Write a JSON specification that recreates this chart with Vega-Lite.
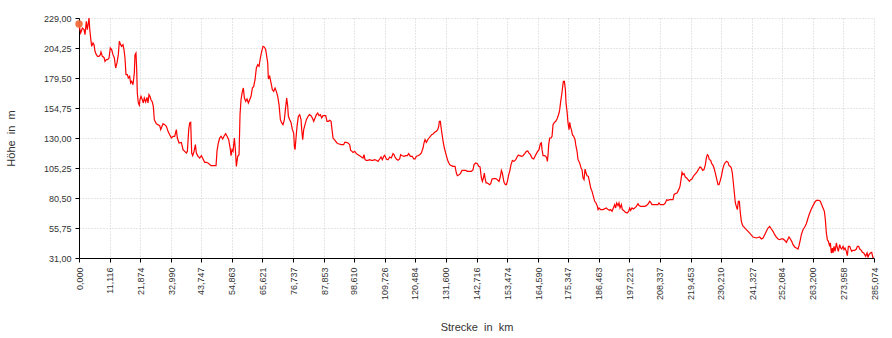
{
 "$schema": "https://vega.github.io/schema/vega-lite/v6.json",
 "width": 795, "height": 240,
 "autosize": "none",
 "padding": {"left": 79, "top": 18, "right": 18, "bottom": 80},
 "background": "white",
 "config": {"view": {"stroke": null}, "font": "Liberation Sans", "axis": {"labelOverlap": false, "labelSeparation": 0}},
 "datasets": {
  "start": [{"km": 0, "m": 224}],
  "profile": [
   {"km":0,"m":223.5},{"km":0.6,"m":216.6},{"km":1.2,"m":220.75},{"km":1.8,"m":219.4},{"km":2.15,"m":215.25},{"km":2.63,"m":226.25},{"km":2.99,"m":219.4},{"km":3.35,"m":224.9},{"km":3.59,"m":229},{"km":3.82,"m":220.75},{"km":4.18,"m":212.5},{"km":4.54,"m":205.6},{"km":5.02,"m":208.4},{"km":5.38,"m":207},{"km":5.74,"m":201.5},{"km":6.21,"m":198.75},{"km":6.69,"m":197.4},{"km":7.17,"m":197.4},{"km":7.65,"m":198.75},{"km":7.89,"m":201},{"km":8.37,"m":197.4},{"km":8.96,"m":196.5},{"km":9.32,"m":193.25},{"km":9.8,"m":194.6},{"km":10.28,"m":194.6},{"km":10.76,"m":196},{"km":11.23,"m":204.25},{"km":11.71,"m":202.9},{"km":12.19,"m":198.75},{"km":12.67,"m":196},{"km":13.15,"m":187.75},{"km":13.62,"m":191.9},{"km":14.1,"m":198.75},{"km":14.46,"m":209.75},{"km":14.94,"m":207},{"km":15.3,"m":205.6},{"km":15.77,"m":207},{"km":16.13,"m":202.9},{"km":16.49,"m":196},{"km":16.85,"m":182.25},{"km":17.33,"m":182.25},{"km":17.69,"m":179.5},{"km":18.16,"m":180.9},{"km":18.52,"m":175.4},{"km":18.88,"m":176.75},{"km":19.36,"m":174},{"km":19.84,"m":183.6},{"km":20.08,"m":198.75},{"km":20.43,"m":200.1},{"km":20.67,"m":187.75},{"km":20.91,"m":167.1},{"km":21.27,"m":158.9},{"km":21.63,"m":157},{"km":21.87,"m":161.6},{"km":22.23,"m":164.4},{"km":22.71,"m":161.6},{"km":23.06,"m":158.9},{"km":23.42,"m":163},{"km":23.9,"m":159.7},{"km":24.38,"m":163.5},{"km":24.74,"m":158.9},{"km":25.1,"m":165.75},{"km":25.45,"m":164.4},{"km":25.81,"m":161.6},{"km":26.29,"m":159.7},{"km":26.65,"m":156.1},{"km":27.01,"m":145.1},
   {"km":27.74,"m":141.8},{"km":28.94,"m":140.2},{"km":29.3,"m":136.9},{"km":30.13,"m":141.8},{"km":30.73,"m":141},{"km":31.33,"m":139.6},{"km":31.92,"m":135.5},{"km":32.52,"m":132.75},{"km":33.12,"m":130},{"km":33.72,"m":131.4},{"km":34.32,"m":131.4},{"km":34.91,"m":136.9},{"km":35.27,"m":130},{"km":35.87,"m":125.9},{"km":36.71,"m":126.4},{"km":37.3,"m":120.4},{"km":37.9,"m":119},{"km":38.5,"m":117.6},{"km":38.86,"m":119},{"km":39.34,"m":136.9},{"km":39.7,"m":142.4},{"km":40.05,"m":142.9},{"km":40.41,"m":117.6},{"km":40.77,"m":115.4},{"km":41.25,"m":119},{"km":41.73,"m":124.5},{"km":42.09,"m":117.6},{"km":42.68,"m":114.9},{"km":43.28,"m":113.5},{"km":43.88,"m":115.4},{"km":44.48,"m":112.7},{"km":45.07,"m":109.9},{"km":45.67,"m":109.9},{"km":46.27,"m":109.4},
   {"km":47.35,"m":107.2},{"km":49.14,"m":107.2},{"km":49.5,"m":119.7},{"km":49.97,"m":125.9},{"km":50.45,"m":130},{"km":50.93,"m":131.4},{"km":51.53,"m":129.2},{"km":52.13,"m":132},{"km":52.6,"m":133.6},{"km":53.08,"m":131.4},{"km":53.68,"m":128.6},{"km":54.28,"m":120.4},{"km":54.52,"m":115.4},{"km":54.88,"m":120.4},{"km":55.23,"m":119},{"km":55.71,"m":130},{"km":56.07,"m":120.4},{"km":56.43,"m":106.6},{"km":56.67,"m":110.75},{"km":56.91,"m":114.9},{"km":57.39,"m":116.25},{"km":57.74,"m":149.25},{"km":58.1,"m":161.6},{"km":58.58,"m":168.5},{"km":58.94,"m":171.25},{"km":59.3,"m":163},{"km":59.78,"m":160.3},{"km":60.25,"m":162.2},{"km":60.73,"m":158.9},{"km":61.21,"m":161.6},{"km":61.69,"m":164.4},{"km":62.17,"m":171.25},{"km":62.65,"m":172.6},{"km":63.12,"m":178.1},{"km":63.6,"m":187.75},{"km":64.08,"m":190.5},{"km":64.56,"m":189.1},{"km":65.04,"m":196},{"km":65.51,"m":201.5},{"km":65.99,"m":205.6},{"km":66.47,"m":205},{"km":66.95,"m":202.9},{"km":67.31,"m":197.4},{"km":67.67,"m":191.9},{"km":67.9,"m":178.7},{"km":68.38,"m":180.9},{"km":68.86,"m":175.4},{"km":69.34,"m":169.9},{"km":69.82,"m":168.5},{"km":70.3,"m":171.25},{"km":70.77,"m":168.5},{"km":71.25,"m":164.4},{"km":71.73,"m":157.5},{"km":72.21,"m":145.1},{"km":72.69,"m":142.4},{"km":73.16,"m":141},{"km":73.64,"m":145.1},{"km":74.0,"m":153.4},{"km":74.48,"m":163},{"km":74.84,"m":156.1},{"km":75.08,"m":147.9},{"km":75.55,"m":145.1},{"km":76.03,"m":142.9},{"km":76.51,"m":136.9},{"km":76.99,"m":134.1},{"km":77.23,"m":123.1},{"km":77.47,"m":120.4},{"km":77.82,"m":130},{"km":78.18,"m":139.6},{"km":78.66,"m":147.9},{"km":79.14,"m":149.25},{"km":79.62,"m":145.1},{"km":79.86,"m":136.9},{"km":80.22,"m":128.6},{"km":80.57,"m":136.9},{"km":81.05,"m":141},{"km":81.53,"m":145.1},{"km":82.01,"m":147.35},{"km":82.61,"m":149.25},{"km":83.2,"m":148.4},{"km":83.68,"m":146.5},{"km":84.16,"m":143.75},{"km":84.64,"m":146.5},{"km":85.12,"m":149.25},{"km":85.6,"m":150.6},{"km":86.07,"m":148.4},{"km":86.55,"m":149.25},{"km":87.03,"m":146.5},{"km":87.51,"m":148.4},{"km":87.99,"m":148.4},{"km":88.46,"m":148.4},{"km":88.94,"m":143.75},{"km":89.42,"m":143.75},{"km":89.9,"m":144.6},{"km":90.38,"m":143.75},{"km":90.73,"m":136.9},{"km":91.09,"m":130},{"km":91.57,"m":128.6},{"km":92.05,"m":127.3},{"km":92.53,"m":125.9},{"km":93.0,"m":125.3},
   {"km":94.08,"m":124.5},{"km":94.91,"m":124.5},{"km":95.27,"m":126.4},{"km":95.87,"m":126.4},{"km":96.47,"m":125.9},{"km":97.07,"m":124.5},{"km":97.42,"m":119.8},{"km":97.9,"m":119},{"km":98.26,"m":118.1},{"km":98.86,"m":119},{"km":99.46,"m":117.1},{"km":100.05,"m":116.25},{"km":100.65,"m":115.4},{"km":101.25,"m":114.3},{"km":101.85,"m":113.5},{"km":102.21,"m":116.25},{"km":102.56,"m":112.1},{"km":103.04,"m":111.6},{"km":103.64,"m":111.6},{"km":104.24,"m":112.1},{"km":104.84,"m":111.6},{"km":105.43,"m":111.6},{"km":106.03,"m":112.1},{"km":106.63,"m":111.6},{"km":107.23,"m":110.75},{"km":107.82,"m":112.7},{"km":108.3,"m":114.3},{"km":108.78,"m":112.1},{"km":109.26,"m":114.9},{"km":109.62,"m":115.7},{"km":110.21,"m":112.7},{"km":110.81,"m":112.1},{"km":111.41,"m":114.3},{"km":112.01,"m":113.5},{"km":112.6,"m":117.1},{"km":112.96,"m":116.25},{"km":113.32,"m":114.3},{"km":113.8,"m":112.7},{"km":114.4,"m":111.6},{"km":114.98,"m":112.7},{"km":115.35,"m":116.25},{"km":115.95,"m":115.4},{"km":116.55,"m":114.9},{"km":117.15,"m":115.4},{"km":117.74,"m":115.4},{"km":118.22,"m":117.1},{"km":118.82,"m":114.9},{"km":119.54,"m":114.9},{"km":120.02,"m":112.7},{"km":120.49,"m":112.7},{"km":120.97,"m":114.9},{"km":121.57,"m":115.4},{"km":122.17,"m":116.25},{"km":122.76,"m":117.6},{"km":123.36,"m":121.75},{"km":123.72,"m":125.9},{"km":124.08,"m":128.6},{"km":124.56,"m":126.4},{"km":125.04,"m":128.6},{"km":125.51,"m":130},{"km":125.99,"m":131.4},{"km":126.47,"m":132.75},{"km":126.95,"m":133.3},{"km":127.55,"m":134.7},{"km":128.14,"m":135.5},{"km":128.62,"m":136.9},{"km":128.98,"m":139.6},{"km":129.22,"m":143.75},{"km":129.58,"m":143.75},{"km":129.94,"m":136.9},{"km":130.3,"m":131.4},{"km":130.65,"m":125.9},{"km":131.01,"m":121.75},{"km":131.49,"m":117.6},{"km":131.85,"m":114.3},{"km":132.33,"m":110.75},{"km":132.93,"m":108},{"km":133.52,"m":107.2},{"km":134.12,"m":106.6},{"km":134.84,"m":106.6},{"km":135.32,"m":101.1},{"km":135.67,"m":98.9},{"km":136.27,"m":99.75},{"km":136.75,"m":100.6},{"km":137.35,"m":103.3},{"km":137.95,"m":103.3},{"km":138.66,"m":103.3},{"km":139.26,"m":102.5},{"km":140.1,"m":102.5},
   {"km":140.7,"m":102.5},{"km":141.3,"m":103.9},{"km":141.65,"m":108},{"km":142.25,"m":109.4},{"km":142.85,"m":108.8},{"km":143.33,"m":106.6},{"km":143.81,"m":106.1},{"km":144.28,"m":97},{"km":144.64,"m":94.25},{"km":145.0,"m":97},{"km":145.36,"m":101.1},{"km":145.6,"m":97},{"km":145.96,"m":92.9},{"km":146.32,"m":92.9},{"km":146.79,"m":92.3},{"km":147.27,"m":91.5},{"km":147.63,"m":92.3},{"km":148.11,"m":96.2},{"km":148.71,"m":96.5},{"km":149.42,"m":96.5},{"km":150.02,"m":95.6},{"km":150.62,"m":94.25},{"km":151.1,"m":98.4},{"km":151.46,"m":103.3},{"km":151.81,"m":101.1},{"km":152.05,"m":97.8},{"km":152.41,"m":93.4},{"km":152.89,"m":91.5},{"km":153.25,"m":91.5},{"km":153.61,"m":94.25},{"km":154.09,"m":99.75},{"km":154.44,"m":102.5},{"km":154.92,"m":108},{"km":155.4,"m":111.3},{"km":156.0,"m":110.75},{"km":156.6,"m":112.1},{"km":157.07,"m":114.3},{"km":157.55,"m":116},{"km":158.03,"m":115.4},{"km":158.75,"m":114.9},{"km":159.22,"m":115.4},{"km":159.82,"m":117.1},{"km":160.42,"m":119},{"km":160.9,"m":119.3},{"km":161.38,"m":117.6},{"km":161.85,"m":116.25},{"km":162.45,"m":113.5},{"km":163.05,"m":112.7},{"km":163.53,"m":114.9},{"km":164.01,"m":117.1},{"km":164.48,"m":119},{"km":164.96,"m":120.4},{"km":165.44,"m":125.3},{"km":165.8,"m":125.9},{"km":166.04,"m":120.4},{"km":166.4,"m":115.4},{"km":166.87,"m":115.4},{"km":167.35,"m":114.9},{"km":167.71,"m":113.5},{"km":167.95,"m":110.75},{"km":168.19,"m":116.25},{"km":168.43,"m":124.5},{"km":168.79,"m":130},{"km":169.27,"m":130},{"km":169.62,"m":131.4},{"km":169.98,"m":141},{"km":170.46,"m":142.9},{"km":170.94,"m":143.75},{"km":171.42,"m":145.7},{"km":171.77,"m":147.9},{"km":172.13,"m":150.6},{"km":172.37,"m":153.4},{"km":172.73,"m":160.25},{"km":173.09,"m":165.75},{"km":173.45,"m":172.6},{"km":173.69,"m":176.75},{"km":174.05,"m":176.75},{"km":174.41,"m":169.9},{"km":174.64,"m":158.9},{"km":175.0,"m":152},{"km":175.36,"m":142.4},{"km":175.72,"m":136.9},{"km":175.96,"m":142.9},{"km":176.2,"m":139.6},{"km":176.56,"m":136.9},{"km":176.92,"m":132.75},{"km":177.39,"m":131.4},{"km":177.87,"m":128.6},{"km":178.11,"m":124.5},{"km":178.59,"m":119},{"km":178.95,"m":112.1},{"km":179.54,"m":109.4},{"km":180.02,"m":105.25},{"km":180.38,"m":103.9},{"km":180.74,"m":97},{"km":181.1,"m":95.6},{"km":181.46,"m":104.4},{"km":181.82,"m":101.1},{"km":182.17,"m":98.9},{"km":182.65,"m":98.4},{"km":183.13,"m":92.9},{"km":183.49,"m":88.75},{"km":183.97,"m":86},{"km":184.45,"m":81.9},{"km":184.92,"m":77.75},{"km":185.4,"m":76.4},{"km":185.88,"m":73.6},{"km":186.12,"m":70.9},{"km":186.48,"m":72.25},{"km":187.08,"m":70.9},{"km":187.91,"m":70.9},
   {"km":189.1,"m":72.25},{"km":189.7,"m":70.9},{"km":190.17,"m":70.3},{"km":190.65,"m":70.9},{"km":191.13,"m":69.5},{"km":191.61,"m":72.25},{"km":192.09,"m":75},{"km":192.44,"m":72.25},{"km":192.8,"m":76.4},{"km":193.28,"m":74.2},{"km":193.64,"m":76.4},{"km":194.0,"m":72.25},{"km":194.48,"m":75},{"km":194.84,"m":70.9},{"km":195.31,"m":70.3},{"km":195.91,"m":68.7},{"km":196.51,"m":68.1},{"km":197.11,"m":69.5},{"km":197.46,"m":72.25},{"km":197.82,"m":70.3},{"km":198.3,"m":72.25},{"km":198.78,"m":71.4},{"km":199.26,"m":72.25},{"km":199.86,"m":73.6},{"km":200.45,"m":75.8},{"km":200.81,"m":74.2},{"km":201.41,"m":73.6},{"km":202.25,"m":73.6},{"km":202.84,"m":73.6},{"km":203.44,"m":74.2},{"km":204.04,"m":75.55},{"km":204.64,"m":77.75},{"km":205.0,"m":76.9},{"km":205.47,"m":75},{"km":206.07,"m":75},{"km":206.67,"m":75},{"km":207.27,"m":75},{"km":207.62,"m":75},{"km":207.98,"m":76.4},{"km":208.46,"m":75},{"km":209.06,"m":75},{"km":209.66,"m":75},{"km":210.25,"m":76.4},{"km":210.73,"m":79.1},{"km":211.21,"m":78.6},{"km":211.81,"m":79.1},{"km":212.41,"m":79.1},{"km":213.0,"m":79.1},{"km":213.36,"m":83.25},{"km":213.84,"m":84.1},{"km":214.44,"m":84.6},{"km":215.04,"m":87.4},{"km":215.51,"m":90.1},{"km":215.87,"m":95.6},{"km":216.23,"m":101.7},{"km":216.59,"m":99.75},{"km":216.95,"m":100.6},{"km":217.43,"m":97.8},{"km":217.9,"m":97},{"km":218.38,"m":95.6},{"km":218.86,"m":94.25},{"km":219.34,"m":95.6},{"km":219.82,"m":96.2},{"km":220.29,"m":98.4},{"km":220.77,"m":99.75},{"km":221.25,"m":101.1},{"km":221.73,"m":102.5},{"km":222.21,"m":104.4},{"km":222.69,"m":106.1},{"km":223.16,"m":105.25},{"km":223.64,"m":103.3},{"km":224.12,"m":103.9},{"km":224.6,"m":108},{"km":224.96,"m":113.5},{"km":225.32,"m":116.25},{"km":225.67,"m":115.4},{"km":226.03,"m":112.1},{"km":226.51,"m":111.6},{"km":226.87,"m":108.8},{"km":227.23,"m":108},{"km":227.71,"m":105.25},{"km":228.18,"m":101.1},{"km":228.66,"m":96.2},{"km":229.14,"m":91.5},{"km":229.5,"m":91.5},{"km":229.86,"m":94.25},{"km":230.34,"m":98.4},{"km":230.81,"m":103.9},{"km":231.29,"m":108},{"km":231.77,"m":109.9},{"km":232.25,"m":110.75},{"km":232.73,"m":109.9},{"km":233.08,"m":107.2},{"km":233.56,"m":106.6},{"km":233.92,"m":105.25},{"km":234.28,"m":101.1},{"km":234.64,"m":92.9},{"km":235.0,"m":84.6},{"km":235.36,"m":76.4},{"km":235.71,"m":73.6},{"km":236.07,"m":70.9},{"km":236.43,"m":77.75},{"km":236.79,"m":77.75},{"km":237.15,"m":68.1},{"km":237.51,"m":61.25},{"km":237.99,"m":57.7},
   {"km":239.3,"m":54.4},{"km":240.5,"m":51.6},{"km":241.7,"m":48.3},{"km":242.89,"m":47.5},{"km":244.09,"m":48.3},{"km":244.68,"m":46.7},{"km":245.28,"m":47.5},{"km":245.88,"m":50.25},{"km":246.48,"m":53},{"km":247.07,"m":55.75},{"km":247.67,"m":57.1},{"km":248.27,"m":54.9},{"km":248.87,"m":53},{"km":249.46,"m":50.25},{"km":250.06,"m":48.3},{"km":250.66,"m":46.7},{"km":251.26,"m":46.1},{"km":251.86,"m":46.7},{"km":252.45,"m":46.7},{"km":253.05,"m":45.6},{"km":253.65,"m":43.9},{"km":254.25,"m":46.7},{"km":254.6,"m":48.3},{"km":255.08,"m":46.7},{"km":255.56,"m":44.75},{"km":256.04,"m":42},{"km":256.64,"m":40.1},{"km":257.23,"m":39.25},{"km":257.83,"m":38.4},{"km":258.19,"m":41.2},{"km":258.67,"m":46.1},{"km":259.03,"m":50.25},{"km":259.63,"m":54.4},{"km":260.22,"m":56.6},{"km":260.82,"m":59.3},{"km":261.42,"m":64},{"km":262.02,"m":68.1},{"km":262.61,"m":71.4},{"km":263.21,"m":74.2},{"km":263.81,"m":76.9},{"km":264.41,"m":78.6},{"km":265.36,"m":78.6},{"km":265.84,"m":77.75},{"km":266.32,"m":75},{"km":266.8,"m":72.25},{"km":267.28,"m":69.5},{"km":267.63,"m":62.6},{"km":267.99,"m":51.6},{"km":268.35,"m":46.1},{"km":268.71,"m":44.75},{"km":269.19,"m":40.6},{"km":269.43,"m":43.4},{"km":269.78,"m":35.1},{"km":270.14,"m":39.25},{"km":270.38,"m":35.1},{"km":270.74,"m":40.6},{"km":271.1,"m":36.5},{"km":271.58,"m":43.4},{"km":271.94,"m":39.25},{"km":272.29,"m":36.5},{"km":272.77,"m":42},{"km":273.13,"m":39.25},{"km":273.49,"m":38.4},{"km":273.97,"m":40.6},{"km":274.33,"m":37.9},{"km":274.69,"m":39.25},{"km":275.16,"m":36.5},{"km":275.52,"m":32.9},{"km":275.88,"m":40.6},{"km":276.36,"m":40.6},{"km":276.72,"m":38.4},{"km":277.08,"m":36.5},{"km":277.55,"m":37.3},{"km":278.15,"m":37.3},{"km":278.75,"m":38.4},{"km":279.11,"m":40.6},{"km":279.59,"m":40.6},{"km":279.95,"m":38.4},{"km":280.54,"m":37.3},{"km":280.9,"m":35.7},{"km":281.38,"m":35.1},{"km":281.74,"m":33.75},{"km":282.1,"m":32.4},{"km":282.57,"m":35.1},{"km":282.93,"m":31.8},{"km":283.29,"m":33.75},{"km":283.77,"m":35.1},{"km":284.25,"m":35.7},{"km":284.73,"m":31},{"km":285.07,"m":31}
  ]
 },
 "encoding": {
  "x": {"field": "km", "type": "quantitative",
   "scale": {"domain": [0, 285.074], "nice": false, "zero": false},
   "axis": {
    "values": [0, 11.116, 21.874, 32.99, 43.747, 54.863, 65.621, 76.737, 87.853, 98.61, 109.726, 120.484, 131.6, 142.716, 153.474, 164.59, 175.347, 186.463, 197.221, 208.337, 219.453, 230.21, 241.327, 252.084, 263.2, 273.958, 285.074],
    "labelExpr": "replace(format(datum.value, '.3f'), '.', ',')",
    "labelAngle": -90, "labelFontSize": 9, "labelColor": "#333333", "labelFont": "Liberation Sans",
    "labelOverlap": false, "labelPadding": 5, "labelFlush": false,
    "tickColor": "#000000", "tickSize": 4, "domainColor": "#000000", "domainWidth": 1,
    "gridColor": "#cccccc", "gridDash": [1, 2], "gridWidth": 1,
    "title": "Strecke \u00a0in \u00a0km", "titleFontSize": 11, "titleFontWeight": "normal", "titleColor": "#333333", "titleFont": "Liberation Sans",
    "titleY": 69, "titleBaseline": "middle"
   }},
  "y": {"field": "m", "type": "quantitative",
   "scale": {"domain": [31, 229], "nice": false, "zero": false},
   "axis": {
    "values": [31, 55.75, 80.5, 105.25, 130, 154.75, 179.5, 204.25, 229],
    "labelExpr": "replace(format(datum.value, '.2f'), '.', ',')",
    "labelFontSize": 9, "labelColor": "#333333", "labelFont": "Liberation Sans",
    "labelOverlap": false, "labelPadding": 4, "labelFlush": false,
    "tickColor": "#000000", "tickSize": 4, "domainColor": "#000000", "domainWidth": 1,
    "gridColor": "#cccccc", "gridDash": [1, 2], "gridWidth": 1,
    "title": "Höhe \u00a0in \u00a0m", "titleFontSize": 11, "titleFontWeight": "normal", "titleColor": "#333333", "titleFont": "Liberation Sans",
    "titleX": -68, "titleY": 120, "titleBaseline": "middle"
   }}
 },
 "layer": [
  {
   "data": {"name": "profile"},
   "mark": {"type": "line", "color": "#ff0000", "strokeWidth": 1.2, "clip": true}
  },
  {
   "data": {"name": "start"},
   "mark": {"type": "point", "filled": true, "color": "#f26b3a", "size": 55, "opacity": 0.95, "clip": false}
  }
 ]
}
